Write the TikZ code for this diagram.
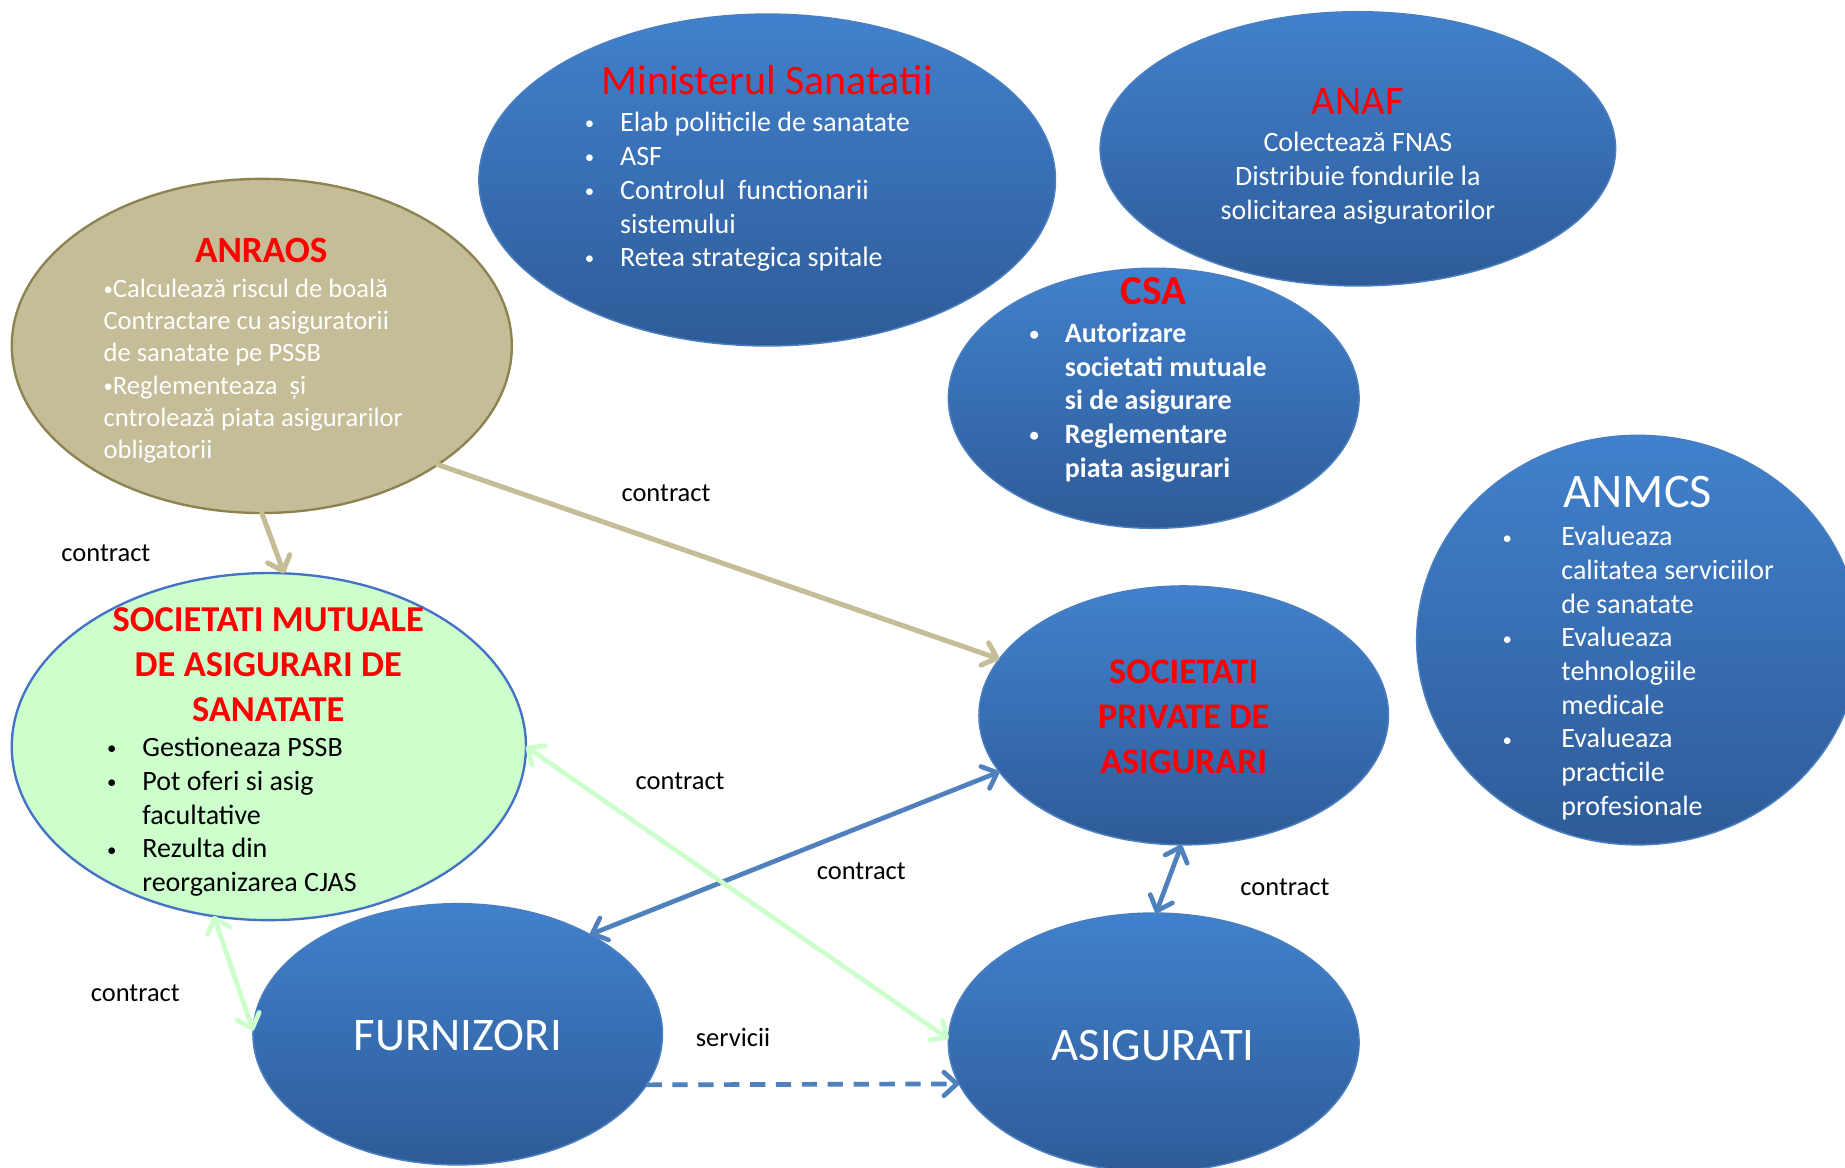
\documentclass[tikz,border=0pt]{standalone}
\usepackage{fontspec}
\setmainfont{Carlito}
\usetikzlibrary{shapes.geometric,arrows.meta}
\definecolor{bltop}{RGB}{65,129,205}
\definecolor{blbot}{RGB}{46,91,152}
\definecolor{blline}{RGB}{74,126,190}
\definecolor{tanfill}{RGB}{196,189,151}
\definecolor{tanline}{RGB}{140,131,80}
\definecolor{mutfill}{RGB}{204,255,204}
\definecolor{mutline}{RGB}{68,114,196}
\definecolor{arrblue}{RGB}{79,129,189}
\definecolor{arrgreen}{RGB}{204,255,204}
\definecolor{titred}{RGB}{255,0,0}
\newcommand{\bl}{\raisebox{1.6pt}{\fontsize{16}{16}\selectfont\textbullet}}
\begin{document}
\begin{tikzpicture}[x=1pt,y=-1pt,
  blueell/.style={ellipse, inner sep=0pt, outer sep=0pt, top color=bltop, bottom color=blbot, draw=blline, line width=1.3pt},
  tanell/.style={ellipse, inner sep=0pt, outer sep=0pt, fill=tanfill, draw=tanline, line width=2pt},
  mutell/.style={ellipse, inner sep=0pt, outer sep=0pt, fill=mutfill, draw=mutline, line width=2pt},
  tanarr/.style={draw=tanfill, line width=4.3pt, line cap=round, -{Straight Barb[length=11pt,width=20pt,round]}},
  bluearr/.style={draw=arrblue, line width=4pt, line cap=round, {Straight Barb[length=11pt,width=20pt,round]}-{Straight Barb[length=11pt,width=20pt,round]}},
  greenarr/.style={draw=arrgreen, line width=4pt, line cap=round, {Straight Barb[length=11pt,width=20pt,round]}-{Straight Barb[length=11pt,width=20pt,round]}},
  dasharr/.style={draw=arrblue, line width=4pt, dash pattern=on 13pt off 9pt, -{Straight Barb[length=11pt,width=20pt,round]}},
  lbl/.style={inner sep=0pt, text=black, font=\fontsize{22.5}{27}\selectfont},
  txt/.style={inner sep=0pt, outer sep=0pt},
  body/.style={font=\fontsize{23.8}{28.7}\selectfont},
  redtitle/.style={text=titred}
]
\path[use as bounding box] (0,0) rectangle (1568,992);
\clip (0,0) rectangle (1568,992);
\fill[white] (0,0) rectangle (1568,992);

% ellipses
\node[blueell, minimum width=490pt, minimum height=282pt] (ms) at (652,153) {};
\node[blueell, minimum width=438pt, minimum height=233pt] (anaf) at (1154,126.5) {};
\node[blueell, minimum width=349pt, minimum height=221pt] (csa) at (980.5,338.5) {};
\node[blueell, minimum width=376pt, minimum height=348pt] (anmcs) at (1392,544) {};
\node[tanell, minimum width=425pt, minimum height=284pt] (anraos) at (222.5,294) {};
\node[mutell, minimum width=437pt, minimum height=295pt] (mut) at (228.5,634.5) {};
\node[blueell, minimum width=348pt, minimum height=220pt] (priv) at (1006,608) {};
\node[blueell, minimum width=348pt, minimum height=222pt] (furn) at (389,879) {};
\node[blueell, minimum width=349pt, minimum height=220pt] (asig) at (980.5,886) {};

% connectors
\draw[tanarr] (anraos.-90) -- (mut.85.6);
\draw[tanarr] (anraos.-34) -- (priv.163.2);
\draw[bluearr] (furn.37.1) -- (priv.-163.7);
\draw[greenarr] (mut.-0.6) -- (asig.179.3);
\draw[greenarr] (mut.-108.9) -- (furn.179);
\draw[bluearr] (priv.-91) -- (asig.89);
\draw[dasharr] (furn.-15.3) -- (asig.-168.1);

% labels
\node[lbl] (c1) at (566,419) {contract};
\node[lbl] (c2) at (90,470) {contract};
\node[lbl] (c3) at (578,664) {contract};
\node[lbl] (c4) at (732,740) {contract};
\node[lbl] (c5) at (1092,754) {contract};
\node[lbl] (c6) at (115,844) {contract};
\node[lbl] (s1) at (623,882) {servicii};

% Ministerul
\node[txt, redtitle, anchor=base, font=\fontsize{35.7}{42}\selectfont] (mst) at (652,80) {Ministerul Sanatatii};
\node[txt, body, text=white, anchor=base west] (msl) at (497,112) {\begin{tabular}[t]{@{}p{30pt}@{}l@{}}
\bl & Elab politicile de sanatate\\
\bl & ASF\\
\bl & Controlul\ \ functionarii\\
 & sistemului\\
\bl & Retea strategica spitale
\end{tabular}};

% ANAF
\node[txt, redtitle, anchor=base, font=\fontsize{34.5}{40}\selectfont] (anaft) at (1154,97) {ANAF};
\node[txt, body, text=white, anchor=base] (anafl) at (1154,129) {\begin{tabular}[t]{@{}c@{}}
Colectează FNAS\\
Distribuie fondurile la\\
solicitarea asiguratorilor
\end{tabular}};

% CSA
\node[txt, redtitle, anchor=base, font=\fontsize{35}{40}\selectfont\bfseries] (csat) at (980,259) {CSA};
\node[txt, text=white, anchor=base west, font=\fontsize{23.8}{28.6}\selectfont\bfseries] (csal) at (875,291) {\begin{tabular}[t]{@{}p{30pt}@{}l@{}}
\bl & Autorizare\\
 & societati mutuale\\
 & si de asigurare\\
\bl & Reglementare\\
 & piata asigurari
\end{tabular}};

% ANMCS
\node[txt, text=white, anchor=base, font=\fontsize{41}{48}\selectfont] (anmcst) at (1392,431) {ANMCS};
\node[txt, text=white, anchor=base west, font=\fontsize{23.8}{28.6}\selectfont] (anmcsl) at (1277,464) {\begin{tabular}[t]{@{}p{50pt}@{}l@{}}
\bl & Evalueaza\\
 & calitatea serviciilor\\
 & de sanatate\\
\bl & Evalueaza\\
 & tehnologiile\\
 & medicale\\
\bl & Evalueaza\\
 & practicile\\
 & profesionale
\end{tabular}};

% ANRAOS
\node[txt, redtitle, anchor=base, font=\fontsize{31.5}{38}\selectfont\bfseries] (anraost) at (222,223) {ANRAOS};
\node[txt, text=white, anchor=base west, font=\fontsize{22.6}{27.3}\selectfont] (anraosl) at (88,253) {\begin{tabular}[t]{@{}l@{}}
\bl{}Calculează riscul de boală\\
Contractare cu asiguratorii\\
de sanatate pe PSSB\\
\bl{}Reglementeaza\ \ și\\
cntrolează piata asigurarilor\\
obligatorii
\end{tabular}};

% Societati mutuale
\node[txt, redtitle, anchor=base, font=\fontsize{31}{38}\selectfont\bfseries] (mutt) at (228,537) {\begin{tabular}[t]{@{}c@{}}
SOCIETATI MUTUALE\\
DE ASIGURARI DE\\
SANATATE
\end{tabular}};
\node[txt, body, text=black, anchor=base west] (mutl) at (91,643) {\begin{tabular}[t]{@{}p{30pt}@{}l@{}}
\bl & Gestioneaza PSSB\\
\bl & Pot oferi si asig\\
 & facultative\\
\bl & Rezulta din\\
 & reorganizarea CJAS
\end{tabular}};

% Societati private
\node[txt, redtitle, anchor=base, font=\fontsize{30.6}{38}\selectfont\bfseries] (privt) at (1006,581) {\begin{tabular}[t]{@{}c@{}}
SOCIETATI\\
PRIVATE DE\\
ASIGURARI
\end{tabular}};

% Furnizori, Asigurati
\node[txt, text=white, anchor=base, font=\fontsize{39.7}{46}\selectfont] (furnt) at (389,893) {FURNIZORI};
\node[txt, text=white, anchor=base, font=\fontsize{39.7}{46}\selectfont] (asigt) at (980,901) {ASIGURATI};
\end{tikzpicture}
\end{document}
